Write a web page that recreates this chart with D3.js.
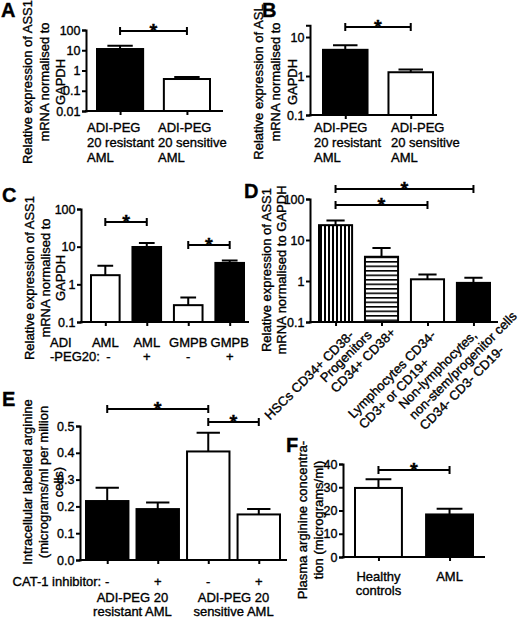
<!DOCTYPE html>
<html>
<head>
<meta charset="utf-8">
<title>ASS1 / ASL / arginine panels</title>
<script src="https://d3js.org/d3.v7.min.js"></script>
<style>
  body { margin: 0; background: #fff; }
  svg { display: block; font-family: "Liberation Sans", Arial, Helvetica, sans-serif; font-size: 13px; }
  text { fill: #000; stroke: #000; stroke-width: 0.35px; }
</style>
</head>
<body>
<svg width="520" height="619"></svg>
<script>
// ---- data (bar height, upper SEM) ----
// A: ASS1 mRNA, ADI-PEG 20 resistant vs sensitive AML
const aMean = [11.5, 0.38];
const aErr = [5, 0.1];
const aLabels = [["ADI-PEG", "20 resistant", "AML"], ["ADI-PEG", "20 sensitive", "AML"]];
// B: ASL mRNA
const bMean = [4.7, 1.25];
const bErr = [1.5, 0.22];
const bLabels = aLabels;
// C: ASS1 mRNA, AML / GMPB with and without ADI-PEG20
const cMean = [1.75, 9.8, 0.28, 3.7];
const cErr = [1.35, 2.7, 0.17, 0.6];
const cCats = ["AML", "AML", "GMPB", "GMPB"];
const cSigns = ["-", "+", "-", "+"];
// D: ASS1 mRNA by cell population
const dMean = [23, 3.9, 1.1, 0.9];
const dErr = [7, 2.5, 0.35, 0.3];
const dLabels = [
  ["HSCs CD34+ CD38-"],
  ["Progenitors", "CD34+ CD38+"],
  ["Lymphocytes CD34-", "CD3+ or CD19+"],
  ["Non-lymphocytes,", "non-stem/progenitor cells", "CD34- CD3- CD19-"]
];
// E: intracellular labelled arginine
const eMean = [0.22, 0.19, 0.405, 0.17];
const eErr = [0.05, 0.025, 0.07, 0.02];
const eSigns = ["-", "+", "-", "+"];
const eGroups = [["ADI-PEG 20", "resistant AML"], ["ADI-PEG 20", "sensitive AML"]];
// F: plasma arginine
const fMean = [29.7, 18.3];
const fErr = [3.7, 2.5];
const fLabels = [["Healthy", "controls"], ["AML"]];

const logTicks1 = [0.01, 0.1, 1, 10, 100];
const logTicks2 = [0.1, 1, 10];
const logTicks3 = [0.1, 1, 10, 100];
const eTicks = [0, 0.1, 0.2, 0.3, 0.4, 0.5];
const fTicks = [0, 10, 20, 30, 40];

const svg = d3.select("svg");

// stripe fills for panel D
const defs = svg.append("defs");
defs.append("pattern").attr("id", "vstripe").attr("patternUnits", "userSpaceOnUse")
    .attr("width", 4).attr("height", 4)
    .call(p => { p.append("rect").attr("width", 4).attr("height", 4).attr("fill", "#fff");
                 p.append("rect").attr("width", 2).attr("height", 4).attr("fill", "#000"); });
defs.append("pattern").attr("id", "hstripe").attr("patternUnits", "userSpaceOnUse")
    .attr("width", 4).attr("height", 4.5)
    .call(p => { p.append("rect").attr("width", 4).attr("height", 4.5).attr("fill", "#fff");
                 p.append("rect").attr("width", 4).attr("height", 1.6).attr("fill", "#000"); });

function barPanel(p) {
  const g = svg.append("g");
  const x = d3.scaleBand().domain(d3.range(p.mean.length)).range(p.barRange)
      .paddingInner(p.pad).paddingOuter(0);
  const y = (p.log ? d3.scaleLog() : d3.scaleLinear()).domain(p.domain).range(p.yRange);
  const base = p.yRange[0];
  const cx = i => x(i) + x.bandwidth() / 2;

  g.selectAll("rect").data(p.mean).join("rect")
      .attr("x", (d, i) => x(i)).attr("width", x.bandwidth())
      .attr("y", d => y(d)).attr("height", d => base - y(d))
      .attr("fill", (d, i) => p.fill[i]).attr("stroke", "#000").attr("stroke-width", 2);

  const cw = x.bandwidth() * 0.55;
  g.selectAll("path.err").data(p.mean).join("path").attr("class", "err")
      .attr("d", (d, i) => {
        const yt = y(d + p.err[i]);
        return `M${cx(i)},${y(d)}V${yt}M${cx(i) - cw / 2},${yt}H${cx(i) + cw / 2}`;
      })
      .attr("stroke", "#000").attr("stroke-width", 2).attr("fill", "none");

  // y axis
  const ya = g.append("g").attr("transform", `translate(${p.axisX},0)`)
      .call(d3.axisLeft(y).tickValues(p.ticks).tickFormat(p.fmt).tickSizeOuter(0).tickSize(4).tickPadding(1.5))
      .attr("font-family", null).attr("font-size", 12.5);
  ya.select(".domain").attr("stroke-width", 2);
  ya.selectAll(".tick line").attr("stroke-width", 2);

  // x axis: ticks at bar centres, line from the y axis to xEnd
  const xa = g.append("g").attr("transform", `translate(0,${base})`)
      .call(d3.axisBottom(d3.scalePoint().domain(d3.range(p.mean.length)).range([cx(0), cx(p.mean.length - 1)]))
            .tickSize(4).tickFormat(""));
  xa.select(".domain").remove();
  xa.selectAll(".tick line").attr("stroke-width", 2);
  g.append("line").attr("x1", p.axisX - 1).attr("x2", p.xEnd).attr("y1", base).attr("y2", base)
      .attr("stroke", "#000").attr("stroke-width", 2);

  // significance brackets
  (p.brackets || []).forEach(([i, j, by]) => {
    g.append("path").attr("d", `M${cx(i)},${by - 4}V${by + 4}M${cx(i)},${by}H${cx(j)}M${cx(j)},${by - 4}V${by + 4}`)
        .attr("stroke", "#000").attr("stroke-width", 2).attr("fill", "none");
    g.append("text").attr("x", (cx(i) + cx(j)) / 2).attr("y", by + 7)
        .attr("text-anchor", "middle").attr("font-size", 20).attr("font-weight", "bold").text("*");
  });
  return { x, y, cx, base };
}

function yLabel(lines, xs, cy) {
  lines.forEach((t, i) => svg.append("text")
      .attr("transform", `translate(${xs[i]},${cy}) rotate(-90)`)
      .attr("text-anchor", "middle").attr("dy", "0.35em").text(t));
}

function letter(t, x, y) {
  svg.append("text").attr("x", x).attr("y", y).attr("font-size", 20).attr("font-weight", "bold").text(t);
}

// ---------- A ----------
letter("A", 1, 17);
const A = barPanel({ mean: aMean, err: aErr, fill: ["#000", "#fff"], log: true,
  domain: [0.01, 100], yRange: [111, 30], ticks: logTicks1, fmt: d => String(d),
  axisX: 86, xEnd: 223, barRange: [97, 210], pad: 0.31, brackets: [[0, 1, 31]] });
yLabel(["Relative expression of ASS1", "mRNA normalised to", "GAPDH"], [27, 44, 60], 82);
aLabels.forEach((lines, i) => lines.forEach((t, k) =>
  svg.append("text").attr("x", [87, 158][i]).attr("y", 132 + k * 15).text(t)));

// ---------- B ----------
letter("B", 262, 17);
const B = barPanel({ mean: bMean, err: bErr, fill: ["#000", "#fff"], log: true,
  domain: [0.1, 20], yRange: [115, 25.3], ticks: logTicks2, fmt: d => String(d),
  axisX: 310, xEnd: 437, barRange: [323, 433], pad: 0.32, brackets: [[0, 1, 27]] });
yLabel(["Relative expression of ASL", "mRNA normalised to", "GAPDH"], [258, 275, 292], 82);
bLabels.forEach((lines, i) => lines.forEach((t, k) =>
  svg.append("text").attr("x", [314, 391][i]).attr("y", 132 + k * 15).text(t)));

// ---------- C ----------
letter("C", 2, 202);
const C = barPanel({ mean: cMean, err: cErr, fill: ["#fff", "#000", "#fff", "#000"], log: true,
  domain: [0.1, 100], yRange: [322, 209], ticks: logTicks3, fmt: d => String(d),
  axisX: 81, xEnd: 249, barRange: [91, 244], pad: 0.31, brackets: [[0, 1, 222], [2, 3, 245]] });
yLabel(["Relative expression of ASS1", "mRNA normalised to", "GAPDH"], [29, 45, 60], 278);
svg.append("text").attr("x", 50).attr("y", 347).text("ADI");
svg.append("text").attr("x", 50).attr("y", 361).text("-PEG20:");
cCats.forEach((t, i) => svg.append("text").attr("x", C.cx(i)).attr("y", 347).attr("text-anchor", "middle").text(t));
cSigns.forEach((t, i) => svg.append("text").attr("x", C.cx(i) + (i === 0 ? 3 : 0)).attr("y", 361).attr("text-anchor", "middle").text(t));

// ---------- D ----------
letter("D", 244, 198);
const D = barPanel({ mean: dMean, err: dErr, fill: ["url(#vstripe)", "url(#hstripe)", "#fff", "#000"], log: true,
  domain: [0.1, 100], yRange: [322, 199], ticks: logTicks3, fmt: d => String(d),
  axisX: 310, xEnd: 498, barRange: [319, 490], pad: 0.28, brackets: [[0, 3, 189], [0, 2, 205]] });
yLabel(["Relative expression of ASS1", "mRNA normalised to GAPDH"], [266, 281], 270);
const dShift = [19, -9, 9, 4];
dLabels.forEach((lines, i) => {
  const g = svg.append("g").attr("transform", `translate(${D.cx(i) + dShift[i]},${D.base + 14}) rotate(-45)`);
  const t = g.selectAll("text").data(lines).join("text").attr("y", (d, k) => k * 15).text(d => d);
  const w0 = t.node().getComputedTextLength();
  t.attr("x", -w0);
});

// ---------- E ----------
letter("E", 2, 406);
const E = barPanel({ mean: eMean, err: eErr, fill: ["#000", "#000", "#fff", "#fff"], log: false,
  domain: [0, 0.5], yRange: [560, 426], ticks: eTicks, fmt: d3.format(".1f"),
  axisX: 80, xEnd: 287, barRange: [86, 280], pad: 0.16, brackets: [[0, 2, 409], [2, 3, 422]] });
yLabel(["Intracellular labelled arginine", "(micrograms/ml per million", "cells)"], [27, 43, 58], 482);
svg.append("text").attr("x", E.cx(0) - 6).attr("y", 586).attr("text-anchor", "end").text("CAT-1 inhibitor:");
eSigns.forEach((t, i) => svg.append("text").attr("x", E.cx(i)).attr("y", 586).attr("text-anchor", "middle").text(t));
eGroups.forEach((lines, gi) => {
  const mx = (E.cx(gi * 2) + E.cx(gi * 2 + 1)) / 2;
  lines.forEach((t, k) => svg.append("text").attr("x", mx).attr("y", 602 + k * 14).attr("text-anchor", "middle").text(t));
});

// ---------- F ----------
letter("F", 286, 452);
const F = barPanel({ mean: fMean, err: fErr, fill: ["#fff", "#000"], log: false,
  domain: [0, 40], yRange: [557, 464], ticks: fTicks, fmt: d3.format("d"),
  axisX: 343, xEnd: 485, barRange: [355, 473], pad: 0.34, brackets: [[0, 1, 470]] });
yLabel(["Plasma arginine concentra-", "tion (micrograms/ml)"], [302, 318], 520);
fLabels.forEach((lines, i) => lines.forEach((t, k) =>
  svg.append("text").attr("x", F.cx(i)).attr("y", 581 + k * 14).attr("text-anchor", "middle").text(t)));
</script>
</body>
</html>
